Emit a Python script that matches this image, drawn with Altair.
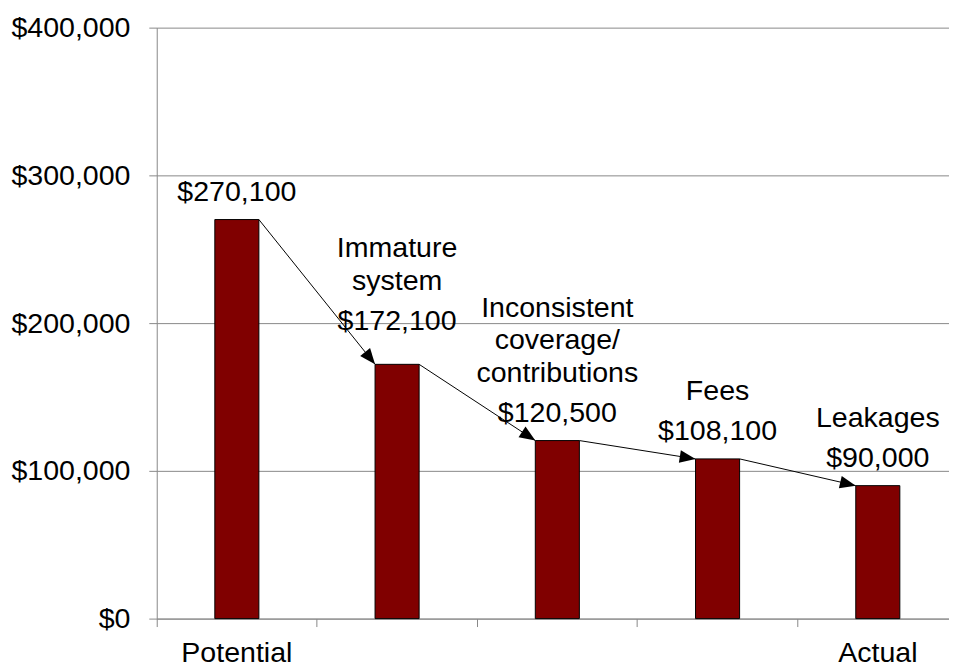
import json
import altair as alt
import pandas as pd

# ---- data ----
keys = ["Potential", "Immature system", "Inconsistent coverage/contributions", "Fees", "Actual"]
axis_labels = ["Potential", "", "", "", "Actual"]
stage_labels = ["", "Immature\nsystem", "Inconsistent\ncoverage/\ncontributions", "Fees", "Leakages"]
values = [270100, 172100, 120500, 108100, 90000]
y_ticks = [0, 100000, 200000, 300000, 400000]

FONT = "Liberation Sans"
FS = 28.8
BAR_FRAC = 0.275
STEP = 161.6

df = pd.DataFrame({"key": keys, "value": values, "stage": stage_labels})
arrows = pd.DataFrame({
    "key": keys[:-1], "top": values[:-1],
    "next_key": keys[1:], "next_top": values[1:],
})

label_map = json.dumps(dict(zip(keys, axis_labels)))

xscale = alt.Scale(domain=keys, range=[0, STEP * len(keys)], paddingInner=0, paddingOuter=0)
yscale = alt.Scale(domain=[0, 400000], nice=False)

x_axis = alt.Axis(
    title=None, bandPosition=0, labelExpr=f"{label_map}[datum.value]",
    labelFont=FONT, labelFontSize=FS, labelColor="black", labelPadding=12, labelAngle=0,
    tickColor="#888888", tickSize=8, domainColor="#888888", grid=False, labelBound=False,
    labelOverlap=False,
)
y_axis = alt.Axis(
    title=None, values=y_ticks, format="$,.0f", labelFont=FONT, labelFontSize=FS,
    labelColor="black", labelPadding=19, tickColor="#888888", tickSize=8,
    domainColor="#888888", gridColor="#888888", gridWidth=1,
)

base = alt.Chart(df)

bars = base.mark_bar(
    color="#800000", stroke="black", strokeWidth=1, width=alt.RelativeBandSize(BAR_FRAC)
).encode(
    x=alt.X("key:N", scale=xscale, axis=x_axis),
    y=alt.Y("value:Q", scale=yscale, axis=y_axis),
)

# the second label sits higher to clear the incoming arrow
raise_expr = f"(datum.key == '{keys[1]}' ? 16 : 0)"

value_text = base.mark_text(
    font=FONT, fontSize=FS, color="black", baseline="alphabetic", align="center",
    dy=alt.expr(f"-19 - {raise_expr}"),
).encode(
    x=alt.X("key:N", scale=xscale),
    y=alt.Y("value:Q", scale=yscale),
    text=alt.Text("value:Q", format="$,.0f"),
)

LH = 33
stage_text = base.mark_text(
    font=FONT, fontSize=FS, color="black", baseline="alphabetic", align="center",
    lineBreak="\n", lineHeight=LH,
    dy=alt.expr(f"-59 - {LH} * (length(split(datum.stage, '\\n')) - 1) - {raise_expr}"),
).encode(
    x=alt.X("key:N", scale=xscale),
    y=alt.Y("value:Q", scale=yscale),
    text="stage:N",
)

lo = 0.5 - BAR_FRAC / 2
hi = 0.5 + BAR_FRAC / 2

arrow_lines = alt.Chart(arrows).mark_rule(color="black", strokeWidth=1).encode(
    x=alt.X("key:N", scale=xscale, bandPosition=hi),
    x2=alt.X2("next_key", bandPosition=lo),
    y=alt.Y("top:Q", scale=yscale),
    y2="next_top",
)

angle_expr = (
    f"atan2(scale('y', datum.next_top) - scale('y', datum.top), "
    f"(scale('x', datum.next_key) + {lo}*bandwidth('x')) - (scale('x', datum.key) + {hi}*bandwidth('x'))) * 180 / PI"
)

arrow_heads = alt.Chart(arrows).mark_point(
    shape="M0,0L-2,-0.8L-2,0.8Z", filled=True, color="black", opacity=1, size=256,
    strokeWidth=0, angle=alt.expr(angle_expr),
).encode(
    x=alt.X("next_key:N", scale=xscale, bandPosition=lo),
    y=alt.Y("next_top:Q", scale=yscale),
)

chart = alt.layer(
    bars, arrow_lines, arrow_heads, value_text, stage_text,
).properties(
    width=799, height=596,
    autosize=alt.AutoSizeParams(type="none"),
    padding={"left": 150, "top": 17, "right": 0, "bottom": 45},
    background="white",
).configure_view(stroke=None)

chart.save("out.html", embed_options={"renderer": "svg", "actions": False})
